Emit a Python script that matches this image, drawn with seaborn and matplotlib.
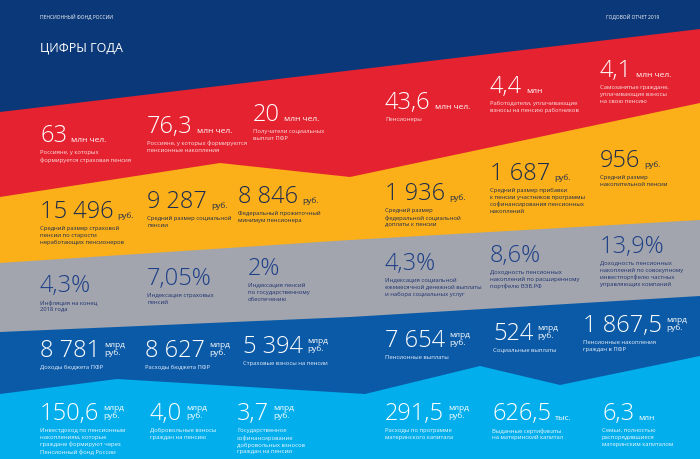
import matplotlib
matplotlib.use("Agg")
import matplotlib.pyplot as plt
import seaborn as sns

# ---------------------------------------------------------------------------
# Band boundaries (page pixels, y grows downwards)
# ---------------------------------------------------------------------------
RED_TOP_X, RED_TOP_Y = [0, 700], [113, 30]
YELLOW_TOP_X, YELLOW_TOP_Y = [0, 220, 350, 700], [198, 164, 178, 104]
GRAY_TOP_X, GRAY_TOP_Y = [0, 350, 700], [264, 241, 221]
BLUE_TOP_X, BLUE_TOP_Y = [0, 350, 700], [333, 318, 297]
SKY_TOP_X, SKY_TOP_Y = [0, 117, 365, 480, 560, 700], [395, 380, 395, 367, 386, 357]

# ---------------------------------------------------------------------------
# Figures of the year
# ---------------------------------------------------------------------------
RED_VALUES = ["63", "76,3", "20", "43,6", "4,4", "4,1"]
RED_UNITS = ["млн чел.", "млн чел.", "млн чел.", "млн чел.", "млн", "млн чел."]
RED_LABELS = [
    "Россияне, у которых\nформируется страховая пенсия",
    "Россияне, у которых формируются\nпенсионные накопления",
    "Получатели социальных\nвыплат ПФР",
    "Пенсионеры",
    "Работодатели, уплачивающие\nвзносы на пенсию работников",
    "Самозанятые граждане,\nуплачивающие взносы\nна свою пенсию",
]

YELLOW_VALUES = ["15 496", "9 287", "8 846", "1 936", "1 687", "956"]
YELLOW_UNITS = ["руб."] * 6
YELLOW_LABELS = [
    "Средний размер страховой\nпенсии по старости\nнеработающих пенсионеров",
    "Средний размер социальной\nпенсии",
    "Федеральный прожиточный\nминимум пенсионера",
    "Средний размер\nфедеральной социальной\nдоплаты к пенсии",
    "Средний размер прибавки\nк пенсии участников программы\nсофинансирования пенсионных\nнакоплений",
    "Средний размер\nнакопительной пенсии",
]

GRAY_VALUES = ["4,3%", "7,05%", "2%", "4,3%", "8,6%", "13,9%"]
GRAY_UNITS = [""] * 6
GRAY_LABELS = [
    "Инфляция на конец\n2018 года",
    "Индексация страховых\nпенсий",
    "Индексация пенсий\nпо государственному\nобеспечению",
    "Индексация социальной\nежемесячной денежной выплаты\nи набора социальных услуг",
    "Доходность пенсионных\nнакоплений по расширенному\nпортфелю ВЭБ.РФ",
    "Доходность пенсионных\nнакоплений по совокупному\nинвестпортфелю частных\nуправляющих компаний",
]

BLUE_VALUES = ["8 781", "8 627", "5 394", "7 654", "524", "1 867,5"]
BLUE_UNITS = ["млрд\nруб."] * 6
BLUE_LABELS = [
    "Доходы бюджета ПФР",
    "Расходы бюджета ПФР",
    "Страховые взносы на пенсии",
    "Пенсионные выплаты",
    "Социальные выплаты",
    "Пенсионные накопления\nграждан в ПФР",
]

SKY_VALUES = ["150,6", "4,0", "3,7", "291,5", "626,5", "6,3"]
SKY_UNITS = ["млрд\nруб.", "млрд\nруб.", "млрд\nруб.", "млрд\nруб.", "тыс.", "млн"]
SKY_LABELS = [
    "Инвестдоход по пенсионным\nнакоплениям, которые\nграждане формируют через\nПенсионный фонд России",
    "Добровольные взносы\nграждан на пенсию",
    "Государственное\nсофинансирование\nдобровольных взносов\nграждан на пенсии",
    "Расходы по программе\nматеринского капитала",
    "Выданные сертификаты\nна материнский капитал",
    "Семьи, полностью\nраспорядившиеся\nматеринским капиталом",
]

# ---------------------------------------------------------------------------
# Layout / style
# ---------------------------------------------------------------------------
W, H = 700, 460
NAVY = "#0b3878"
BANDS = [
    (RED_TOP_X, RED_TOP_Y, "#e5222f"),
    (YELLOW_TOP_X, YELLOW_TOP_Y, "#fbb019"),
    (GRAY_TOP_X, GRAY_TOP_Y, "#a2a5ad"),
    (BLUE_TOP_X, BLUE_TOP_Y, "#0b5aa7"),
    (SKY_TOP_X, SKY_TOP_Y, "#03aeec"),
]

ROWS = [
    # values, units, labels, x, baseline, number colour, label colour
    (RED_VALUES, RED_UNITS, RED_LABELS,
     [40, 147, 253, 385, 490, 600], [142, 133, 121, 109, 93, 77], "white", "#fbe3e4"),
    (YELLOW_VALUES, YELLOW_UNITS, YELLOW_LABELS,
     [40, 147, 238, 385, 490, 600], [218, 208, 203, 200, 180, 167], "#1b2a4e", "#1b2a4e"),
    (GRAY_VALUES, GRAY_UNITS, GRAY_LABELS,
     [40, 147, 248, 385, 490, 600], [292, 285, 275, 270, 262, 253], "#1d3f88", "#1d3170"),
    (BLUE_VALUES, BLUE_UNITS, BLUE_LABELS,
     [40, 145, 243, 385, 493, 583], [357, 357, 353, 347, 340, 332], "white", "#e8f0fa"),
    (SKY_VALUES, SKY_UNITS, SKY_LABELS,
     [40, 150, 237, 385, 492, 602], [420] * 6, "white", "#f0f9fe"),
]

NUM_SIZE = 17
UNIT_SIZE = 6
LABEL_SIZE = 4.2
CAP_H = 17  # approx. digit height in px at NUM_SIZE

sns.set_theme(style="white")
plt.rcParams["font.family"] = ["Open Sans", "DejaVu Sans"]

fig = plt.figure(figsize=(W / 100, H / 100), dpi=100)
ax = fig.add_axes([0, 0, 1, 1])
ax.set_xlim(0, W)
ax.set_ylim(H, 0)
ax.set_axis_off()
fig.patch.set_facecolor(NAVY)
ax.set_facecolor(NAVY)

# ── Coloured bands ──────────────────────────────────────────────────────
for xs, ys, color in BANDS:
    px = list(xs) + [W, 0]
    py = list(ys) + [H, H]
    ax.fill(px, py, color=color, lw=0, zorder=1)

# ── Header ──────────────────────────────────────────────────────────────
ax.text(40, 17, "ПЕНСИОННЫЙ ФОНД РОССИИ", color="white", fontsize=3.5,
        va="center", ha="left", zorder=3)
ax.text(659, 17, "ГОДОВОЙ ОТЧЕТ 2019", color="white", fontsize=3.5,
        va="center", ha="right", zorder=3)
ax.text(40, 48, "ЦИФРЫ ГОДА", color="white", fontsize=9,
        va="center", ha="left", zorder=3)

# ── Figures ─────────────────────────────────────────────────────────────
fig.canvas.draw()
renderer = fig.canvas.get_renderer()
inv = ax.transData.inverted()

for values, units, labels, xs, bases, ncol, lcol in ROWS:
    for val, unit, lab, x, base in zip(values, units, labels, xs, bases):
        t = ax.text(x, base, val, color=ncol, fontsize=NUM_SIZE,
                    fontweight="light", ha="left", va="baseline", zorder=3)
        bb = t.get_window_extent(renderer)
        x_end = inv.transform((bb.x1, bb.y0))[0]
        if unit:
            lines = unit.split("\n")
            if len(lines) == 1:
                ax.text(x_end + 4, base, unit, color=ncol, fontsize=UNIT_SIZE,
                        ha="left", va="baseline", zorder=3)
            else:
                top = base - CAP_H
                for i, ln in enumerate(lines):
                    ax.text(x_end + 4, top + 7 + i * 8.5, ln, color=ncol,
                            fontsize=UNIT_SIZE, ha="left", va="baseline", zorder=3)
        ax.text(x, base + 8, lab, color=lcol, fontsize=LABEL_SIZE,
                ha="left", va="top", linespacing=1.45, zorder=3)

fig.savefig("out.png", dpi=100, facecolor=NAVY)
